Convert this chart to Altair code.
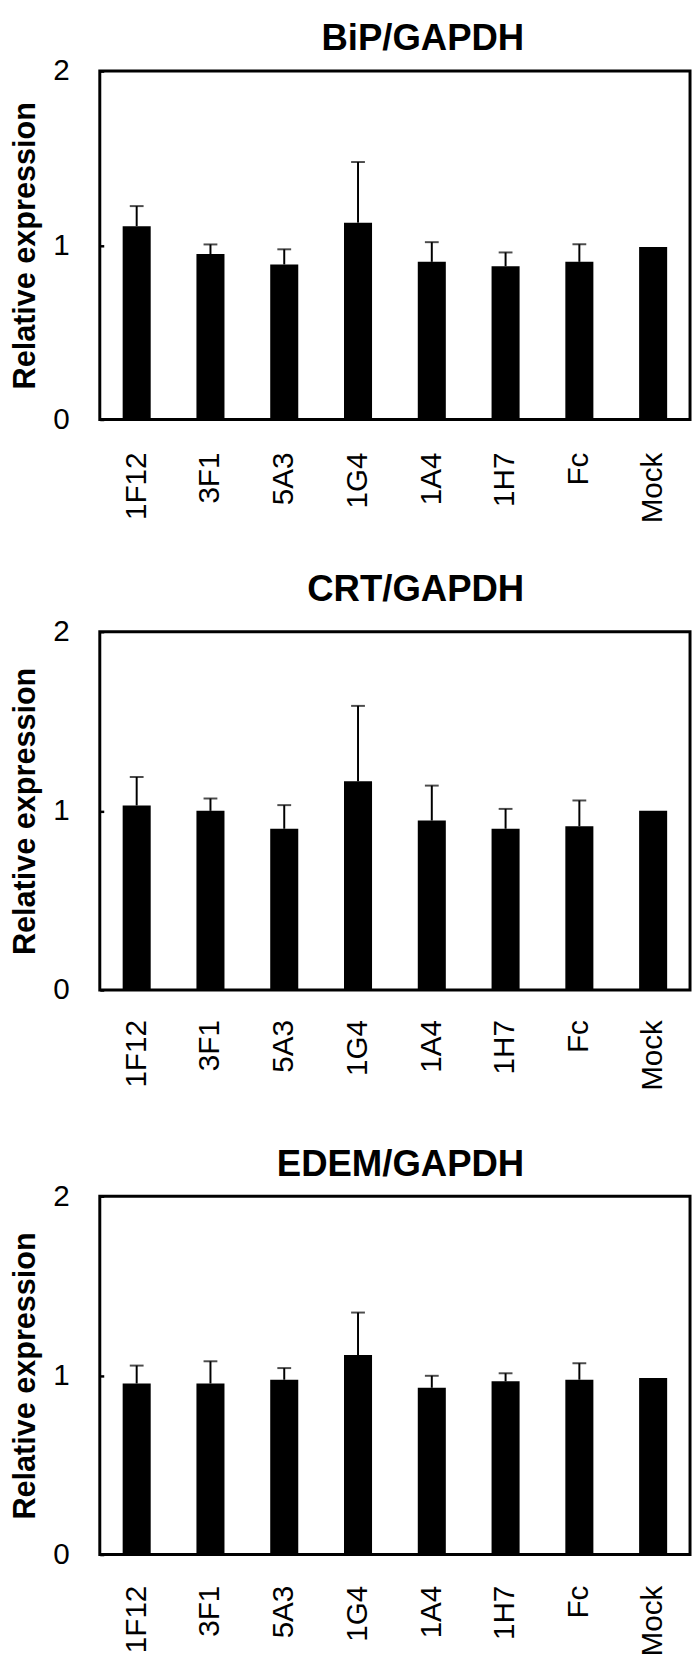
import altair as alt
import pandas as pd

categories = ["1F12", "3F1", "5A3", "1G4", "1A4", "1H7", "Fc", "Mock"]

bip_mean = [1.11, 0.95, 0.89, 1.13, 0.905, 0.88, 0.905, 0.99]
bip_err = [0.115, 0.055, 0.087, 0.348, 0.113, 0.079, 0.101, 0.0]

crt_mean = [1.03, 1.00, 0.90, 1.165, 0.946, 0.90, 0.914, 1.00]
crt_err = [0.159, 0.069, 0.132, 0.421, 0.195, 0.111, 0.144, 0.0]

edem_mean = [0.955, 0.955, 0.976, 1.114, 0.931, 0.967, 0.976, 0.986]
edem_err = [0.100, 0.124, 0.065, 0.237, 0.067, 0.045, 0.092, 0.0]

titles = ["BiP/GAPDH", "CRT/GAPDH", "EDEM/GAPDH"]
y_ticks = [0, 1, 2]

FONT = "Liberation Sans"


def panel(title, means, errs, height, title_offset, label_pad):
    df = pd.DataFrame({
        "cat": categories,
        "mean": means,
        "err": errs,
    })
    df["upper"] = df["mean"] + df["err"]
    err_df = df[df["err"] > 0]

    x_enc = alt.X(
        "cat:N",
        sort=categories,
        scale=alt.Scale(domain=categories, paddingInner=0.62, paddingOuter=0.31),
        axis=alt.Axis(
            title=None, labelAngle=-90, labelPadding=label_pad, ticks=False,
            tickSize=0, domain=False, labelFontSize=30, labelFont=FONT,
            labelColor="black", labelOverlap=False,
        ),
    )
    y_axis = alt.Axis(
        title="Relative expression", values=y_ticks, format=".0f",
        offset=-4, tickSize=4, tickWidth=2.5, tickColor="black",
        domain=False, grid=False, labelOverlap=False, labelFlush=False,
        labelFontSize=30, labelFont=FONT, labelColor="black", labelPadding=31,
        titleFontSize=31, titleFont=FONT, titleFontWeight="bold",
        titleColor="black", titlePadding=11,
    )
    y_scale = alt.Scale(domain=[0, 2], nice=False)

    bars = alt.Chart(df).mark_bar(color="black").encode(
        x=x_enc,
        y=alt.Y("mean:Q", scale=y_scale, axis=y_axis),
    )
    rules = alt.Chart(err_df).mark_rule(color="black", strokeWidth=2).encode(
        x=x_enc,
        y=alt.Y("mean:Q", scale=y_scale, axis=y_axis),
        y2="upper:Q",
    )
    caps = alt.Chart(err_df).mark_tick(color="black", thickness=2, size=14).encode(
        x=x_enc,
        y=alt.Y("upper:Q", scale=y_scale, axis=y_axis),
    )
    return alt.layer(bars, rules, caps).properties(
        width=598,
        height=height,
        title=alt.TitleParams(
            text=title, fontSize=37, font=FONT, fontWeight="bold", color="black",
            anchor="start", frame="group", align="right", dx=430,
            offset=title_offset,
        ),
    )


p1 = panel(titles[0], bip_mean, bip_err, 353, -2, 33)
p2 = panel(titles[1], crt_mean, crt_err, 363, 8, 30)
p3 = panel(titles[2], edem_mean, edem_err, 363, -2, 31)

top_pair = alt.vconcat(p1, p2, spacing=45)
chart = alt.vconcat(top_pair, p3, spacing=52).properties(
    padding={"left": 0, "top": 0, "right": 0, "bottom": 0},
).configure(
    background="white",
    axis=alt.AxisConfig(labelFontSize=30, labelFont=FONT, labelColor="black",
                        labelOverlap=False),
    view=alt.ViewConfig(stroke="black", strokeWidth=3),
)

chart.save("out.html", embed_options={"renderer": "svg", "actions": False})
